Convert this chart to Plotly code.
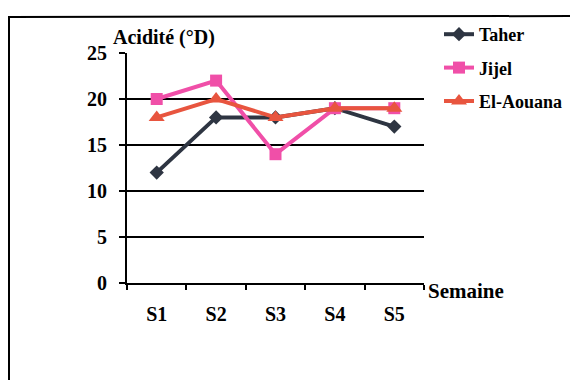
import plotly.graph_objects as go

weeks = ["S1", "S2", "S3", "S4", "S5"]
taher = [12, 18, 18, 19, 17]
jijel = [20, 22, 14, 19, 19]
el_aouana = [18, 20, 18, 19, 19]
y_ticks = [0, 5, 10, 15, 20, 25]

FONT = "Liberation Serif"
L, R, T, B = 127, 424, 53, 283
W, H = 570, 380
pw, ph = R - L, B - T

def px_x(x):
    return (x - L) / pw

def px_y(y):
    return (B - y) / ph

fig = go.Figure()
series = [
    ("Taher", taher, "#2e3542", "diamond", 11),
    ("Jijel", jijel, "#f04fa8", "square", 12),
    ("El-Aouana", el_aouana, "#e8553f", "triangle-up", 14),
]
for i, (name, vals, col, sym, sz) in enumerate(series):
    fig.add_trace(go.Scatter(
        x=weeks, y=vals, name=name, mode="lines+markers",
        line=dict(color=col, width=4),
        marker=dict(symbol=sym, size=sz, color=col),
        legendgroup=f"g{i}",
    ))

fig.update_layout(
    width=W, height=H,
    margin=dict(l=L, r=W - R, t=T, b=H - B, autoexpand=False),
    paper_bgcolor="white", plot_bgcolor="white",
    font=dict(family=FONT, size=18, color="black", weight="bold"),
    showlegend=True,
    legend=dict(
        x=px_x(439), y=px_y(16), xanchor="left", yanchor="top",
        bgcolor="rgba(0,0,0,0)", font=dict(family=FONT, size=18, color="black", weight="bold"),
        traceorder="grouped", tracegroupgap=7, itemwidth=30,
    ),
    xaxis=dict(
        type="category", range=[-0.5, 4.5], showgrid=False,
        showline=True, linecolor="black", linewidth=2,
        ticks="outside", tickson="boundaries", ticklen=5, tickwidth=2, tickcolor="black",
        ticklabelstandoff=12, zeroline=False, automargin=False,
        tickfont=dict(family=FONT, size=20, color="black", weight="bold"),
    ),
    yaxis=dict(
        range=[0, 25], tickvals=y_ticks, showgrid=True, gridcolor="black", gridwidth=2,
        showline=True, linecolor="black", linewidth=2,
        ticks="outside", ticklen=6, tickwidth=2, tickcolor="black",
        ticklabelstandoff=8, zeroline=False, automargin=False,
        tickfont=dict(family=FONT, size=20, color="black", weight="bold"),
    ),
    annotations=[
        dict(text="Acidité (°D)", xref="paper", yref="paper", x=px_x(111), y=px_y(38),
             xanchor="left", yanchor="middle", showarrow=False,
             font=dict(family=FONT, size=20, color="black", weight="bold")),
        dict(text="Semaine", xref="paper", yref="paper", x=px_x(426), y=px_y(291),
             xanchor="left", yanchor="middle", showarrow=False,
             font=dict(family=FONT, size=21, color="black", weight="bold")),
    ],
    shapes=[
        dict(type="line", xref="paper", yref="paper", x0=px_x(9), x1=px_x(580),
             y0=px_y(17), y1=px_y(16), line=dict(color="black", width=2)),
        dict(type="line", xref="paper", yref="paper", x0=px_x(9), x1=px_x(9),
             y0=px_y(16), y1=px_y(390), line=dict(color="black", width=2)),
    ],
)

fig.write_html("out.html")
